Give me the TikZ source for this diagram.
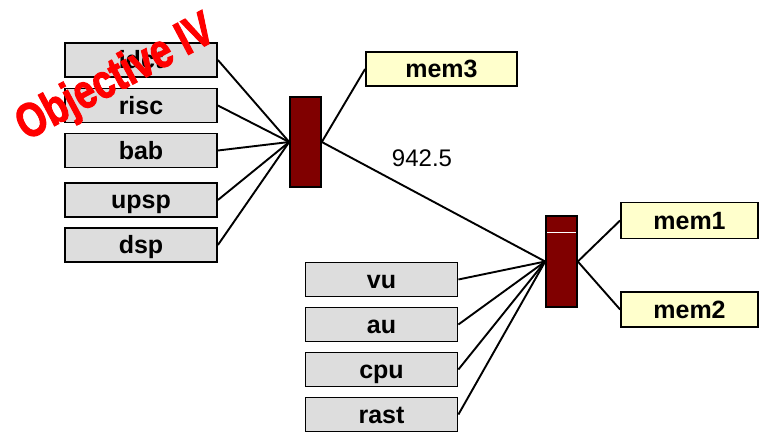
\documentclass[tikz,border=0pt]{standalone}
\usepackage{fontspec}
\setmainfont{Liberation Sans}
\newfontfamily\stampfont[FakeBold=2.5]{Liberation Sans Bold}
\definecolor{unitgray}{HTML}{DDDDDD}
\definecolor{memyellow}{HTML}{FFFFCC}
\definecolor{busred}{HTML}{800000}
\definecolor{stampred}{HTML}{FF0000}
\begin{document}
\begin{tikzpicture}[x=1pt,y=-1pt,
  unit/.style={draw=black,line width=1.8pt,fill=unitgray,minimum width=152pt,minimum height=34pt,
    inner sep=0pt,text height=17pt,text depth=0pt,font=\fontsize{25}{25}\selectfont\bfseries},
  mem/.style={unit,fill=memyellow},
  bus/.style={draw=black,line width=1.6pt,fill=busred,minimum width=31pt,inner sep=0pt},
  wire/.style={line width=1.9pt,black}]
\useasboundingbox (0,0) rectangle (760,433);

% upper bus and its units
\node[bus,minimum height=90pt] (b1) at (305.5,142) {};
\node[unit] (idct) at (141,60) {idct};
\node[unit] (risc) at (141,105.5) {risc};
\node[unit] (bab)  at (141,150.5) {bab};
\node[unit] (upsp) at (141,200) {upsp};
\node[unit] (dsp)  at (141,245) {dsp};
\node[mem,minimum width=151pt] (mem3) at (441.5,69) {mem3};

% lower bus and its units
\node[bus,minimum height=91pt] (b2) at (561.5,261.5) {};
\node[unit] (vu)   at (381.5,279.5) {vu};
\node[unit] (au)   at (381.5,324.5) {au};
\node[unit] (cpu)  at (381.5,369.5) {cpu};
\node[unit] (rast) at (381.5,414.5) {rast};
\node[mem,minimum width=137pt,minimum height=36pt] (mem1) at (689.5,220.5) {mem1};
\node[mem,minimum width=137pt,minimum height=35pt] (mem2) at (689.5,309.5) {mem2};
\draw[white,line width=1pt] ([xshift=2pt,yshift=-17.5pt]b2.north west) -- ([xshift=-2pt,yshift=-17.5pt]b2.north east);

% connections
\foreach \u in {idct,risc,bab,upsp,dsp} \draw[wire] (\u.east) -- (b1.west);
\draw[wire] (b1.east) -- (mem3.west);
\draw[wire] (b1.east) -- (b2.west);
\node[font=\fontsize{24}{24}\selectfont,inner sep=0pt] (bw) at (422,158) {942.5};
\foreach \u in {vu,au,cpu,rast} \draw[wire] (\u.east) -- (b2.west);
\draw[wire] (b2.east) -- (mem1.west);
\draw[wire] (b2.east) -- (mem2.west);

% stamp
\node[stampred,font=\fontsize{48}{48}\stampfont,rotate=28,xscale=0.79,inner sep=0pt,anchor=base] (stamp) at (122,90) {Objective IV};
\end{tikzpicture}
\end{document}
